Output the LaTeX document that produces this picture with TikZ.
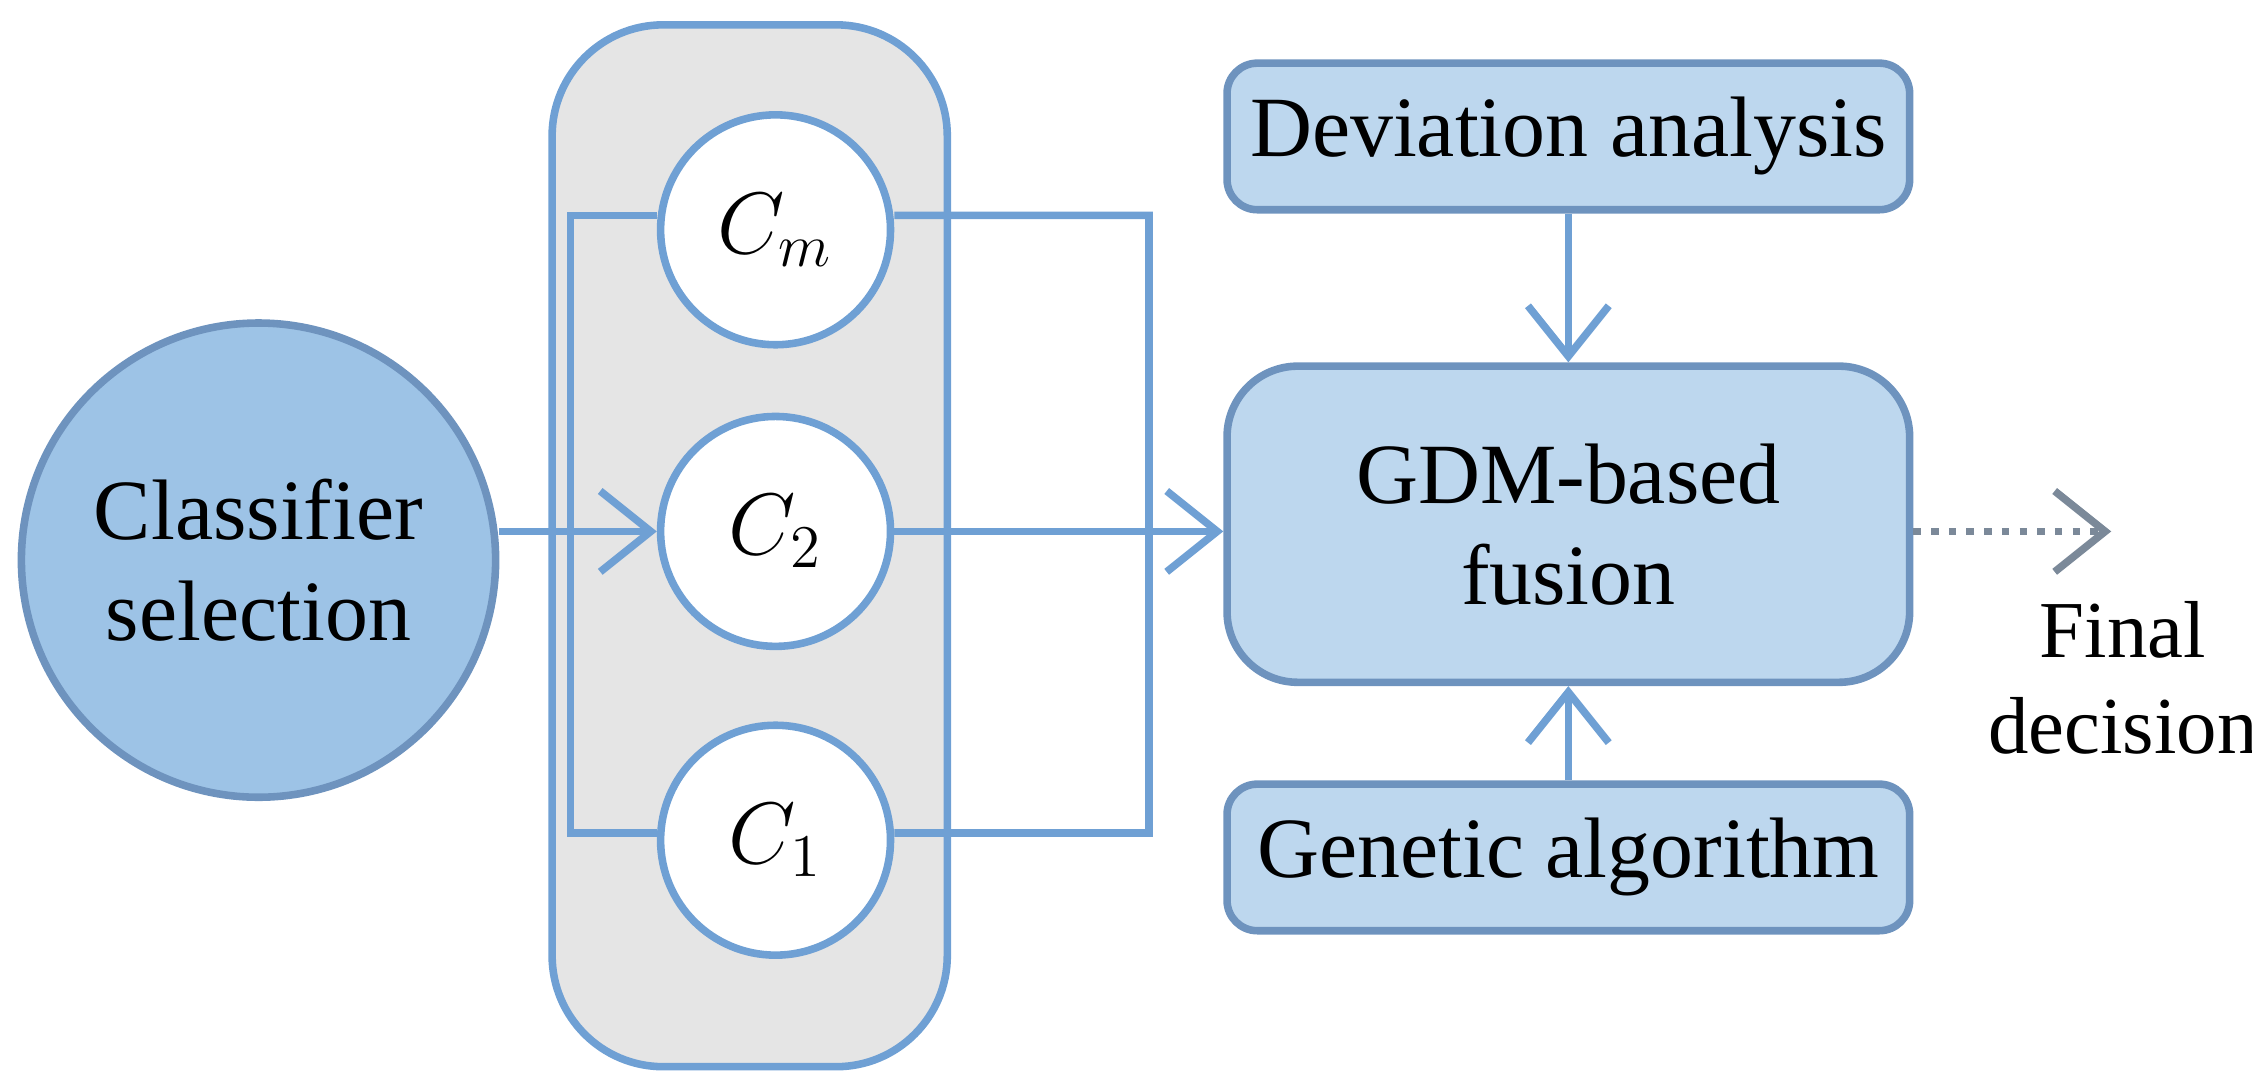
\documentclass[tikz,border=0pt]{standalone}
\usepackage{fontspec}
\setmainfont{Liberation Serif}
\usetikzlibrary{arrows.meta}
\definecolor{ln}{HTML}{6FA0D4}
\definecolor{bx}{HTML}{BDD7EE}
\definecolor{bxd}{HTML}{6E93BE}
\definecolor{big}{HTML}{9DC3E6}
\begin{document}
\begin{tikzpicture}[x=0.01cm,y=-0.01cm,
  txt/.style={font=\fontsize{17}{20}\selectfont},
  box/.style={draw=bxd,line width=1.5pt,fill=bx,rounded corners=6pt,txt,minimum width=4.75cm,minimum height=1.02cm,inner sep=0pt},
  cl/.style={circle,draw=ln,line width=1.5pt,fill=white,minimum size=1.6cm,inner sep=0pt,txt},
  con/.style={draw=ln,line width=1.5pt},
  arr/.style={con,-{Straight Barb[length=10pt,width=16pt]}}]
\useasboundingbox (0,0) rectangle (1568,754);
\node[draw=ln,line width=1.5pt,fill=gray!20,rounded corners=22pt,minimum width=2.75cm,minimum height=7.25cm] (panel) at (522,380) {};
\node[circle,draw=bxd,line width=1.5pt,fill=big,minimum size=3.3cm,align=center,txt,inner sep=0pt] (cs) at (180,390) {Classifier\\selection};
\node[cl] (cm) at (540,160) {$C_m$};
\node[cl] (c2) at (540,370) {$C_2$};
\node[cl] (c1) at (540,585) {$C_1$};
\node[box] (dev) at (1092,95) {Deviation analysis};
\node[box,minimum height=2.2cm,rounded corners=14pt,align=center] (gdm) at (1092,365) {GDM-based\\fusion};
\node[box] (gen) at (1092,597) {Genetic algorithm};
\node[font=\fontsize{16}{19}\selectfont,align=center] (fd) at (1478,472) {Final\\decision};
\coordinate (end) at (1470,370);
\coordinate (rt) at (800,150);
\draw[arr] (cs.east |- c2) -- (c2.west);
\draw[con] ([yshift=0.1cm]cm.west) -- ++(-60,0) |- ([yshift=0.05cm]c1.west);
\draw[con] ([yshift=0.1cm]cm.east) -- (rt) |- ([yshift=0.05cm]c1.east);
\draw[arr] (c2.east) -- (gdm.west |- c2);
\draw[arr] (dev.south) -- (gdm.north);
\draw[arr] (gen.north) -- (gdm.south);
\draw[con,dotted,gray!70!ln,-{Straight Barb[length=10pt,width=16pt]}] (gdm.east |- end) -- (end);
\end{tikzpicture}
\end{document}
